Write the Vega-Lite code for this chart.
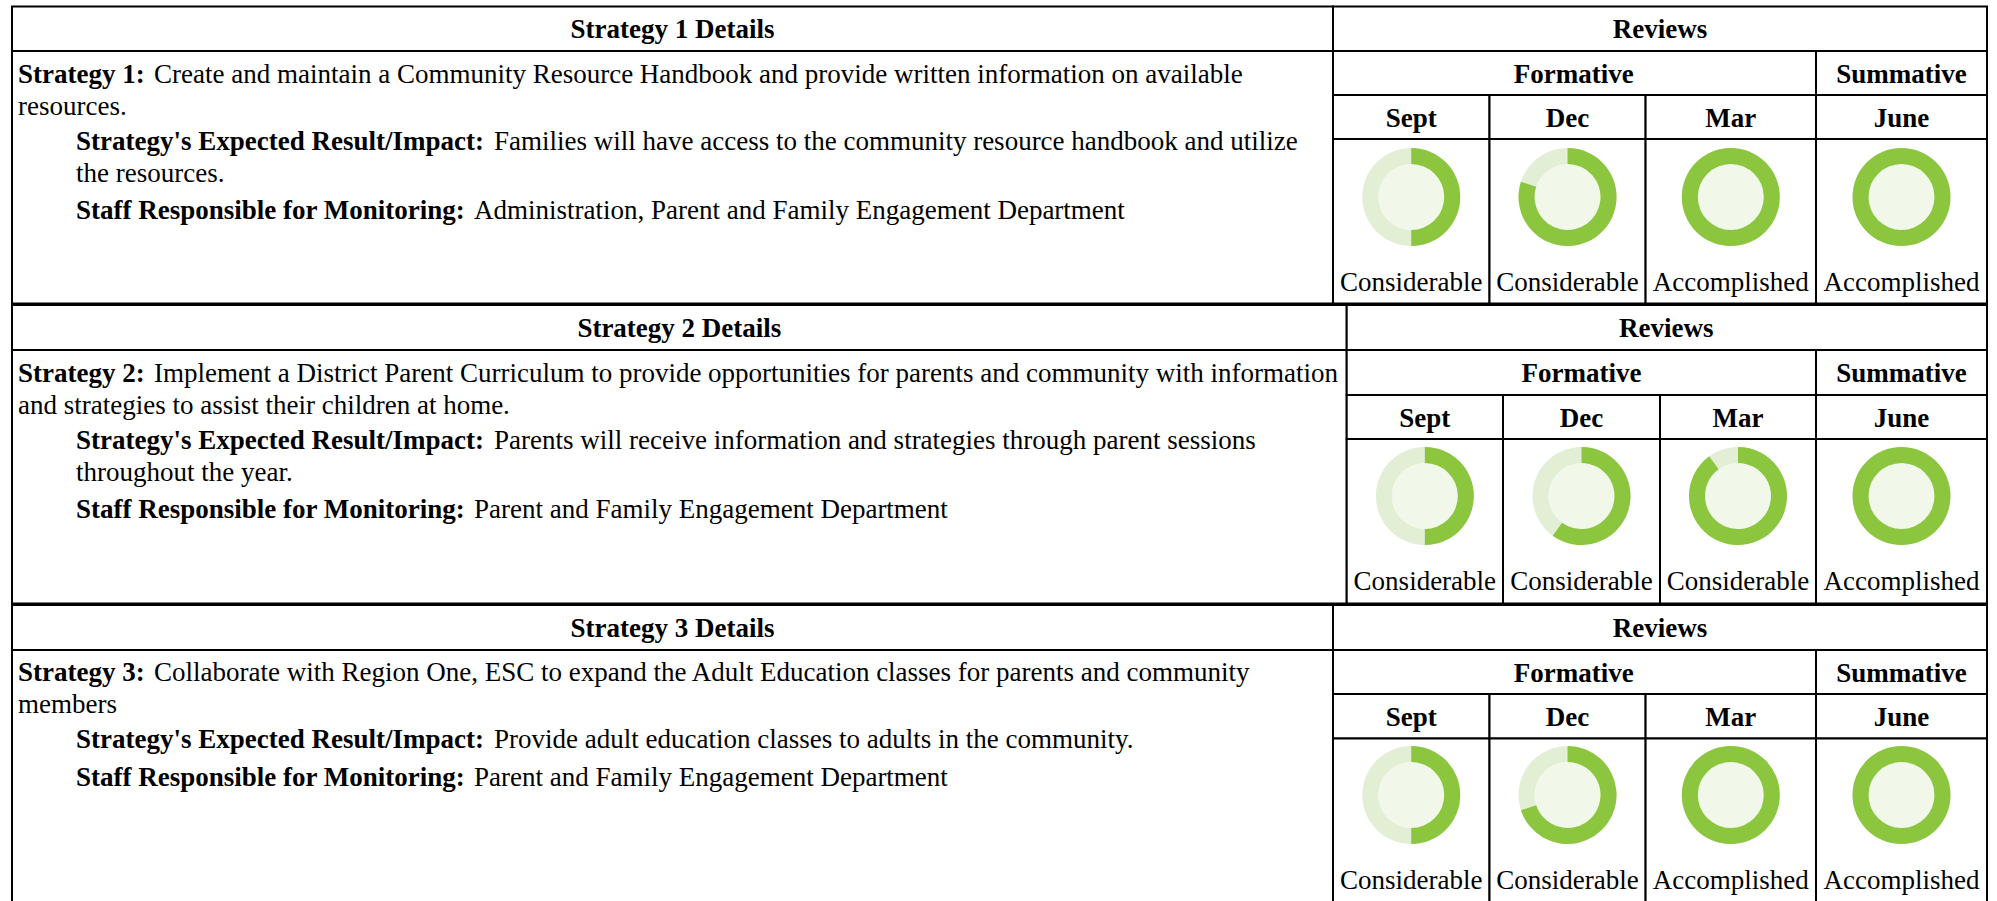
{"$schema":"https://vega.github.io/schema/vega-lite/v6.json","width":1997,"height":901,"autosize":{"type":"none"},"padding":0,"background":"white","config":{"view":{"stroke":null},"text":{"font":"Liberation Serif","fontSize":27,"color":"#000"}},
"datasets":{
"cells":[
{"c0":0,"c1":1,"r0":0,"r1":1},{"c0":1,"c1":5,"r0":0,"r1":1},{"c0":0,"c1":1,"r0":1,"r1":4},{"c0":1,"c1":4,"r0":1,"r1":2},{"c0":4,"c1":5,"r0":1,"r1":2},{"c0":1,"c1":2,"r0":2,"r1":3},{"c0":2,"c1":3,"r0":2,"r1":3},{"c0":3,"c1":4,"r0":2,"r1":3},{"c0":4,"c1":5,"r0":2,"r1":3},{"c0":1,"c1":2,"r0":3,"r1":4},{"c0":2,"c1":3,"r0":3,"r1":4},{"c0":3,"c1":4,"r0":3,"r1":4},{"c0":4,"c1":5,"r0":3,"r1":4},
{"c0":10,"c1":11,"r0":10,"r1":11},{"c0":11,"c1":15,"r0":10,"r1":11},{"c0":10,"c1":11,"r0":11,"r1":14},{"c0":11,"c1":14,"r0":11,"r1":12},{"c0":14,"c1":15,"r0":11,"r1":12},{"c0":11,"c1":12,"r0":12,"r1":13},{"c0":12,"c1":13,"r0":12,"r1":13},{"c0":13,"c1":14,"r0":12,"r1":13},{"c0":14,"c1":15,"r0":12,"r1":13},{"c0":11,"c1":12,"r0":13,"r1":14},{"c0":12,"c1":13,"r0":13,"r1":14},{"c0":13,"c1":14,"r0":13,"r1":14},{"c0":14,"c1":15,"r0":13,"r1":14},
{"c0":0,"c1":1,"r0":20,"r1":21},{"c0":1,"c1":5,"r0":20,"r1":21},{"c0":0,"c1":1,"r0":21,"r1":24},{"c0":1,"c1":4,"r0":21,"r1":22},{"c0":4,"c1":5,"r0":21,"r1":22},{"c0":1,"c1":2,"r0":22,"r1":23},{"c0":2,"c1":3,"r0":22,"r1":23},{"c0":3,"c1":4,"r0":22,"r1":23},{"c0":4,"c1":5,"r0":22,"r1":23},{"c0":1,"c1":2,"r0":23,"r1":24},{"c0":2,"c1":3,"r0":23,"r1":24},{"c0":3,"c1":4,"r0":23,"r1":24},{"c0":4,"c1":5,"r0":23,"r1":24}],
"headers":[
{"label":"Strategy 1 Details","cx":0.5,"cy":0.5},{"label":"Reviews","cx":3.085,"cy":0.5},{"label":"Formative","cx":2.54,"cy":1.5},{"label":"Summative","cx":4.5,"cy":1.5},{"label":"Sept","cx":1.5,"cy":2.5},{"label":"Dec","cx":2.5,"cy":2.5},{"label":"Mar","cx":3.5,"cy":2.5},{"label":"June","cx":4.5,"cy":2.5},
{"label":"Strategy 2 Details","cx":10.5,"cy":10.5},{"label":"Reviews","cx":13.04,"cy":10.5},{"label":"Formative","cx":12.5,"cy":11.5},{"label":"Summative","cx":14.5,"cy":11.5},{"label":"Sept","cx":11.5,"cy":12.5},{"label":"Dec","cx":12.5,"cy":12.5},{"label":"Mar","cx":13.5,"cy":12.5},{"label":"June","cx":14.5,"cy":12.5},
{"label":"Strategy 3 Details","cx":0.5,"cy":20.5},{"label":"Reviews","cx":3.085,"cy":20.5},{"label":"Formative","cx":2.54,"cy":21.5},{"label":"Summative","cx":4.5,"cy":21.5},{"label":"Sept","cx":1.5,"cy":22.5},{"label":"Dec","cx":2.5,"cy":22.5},{"label":"Mar","cx":3.5,"cy":22.5},{"label":"June","cx":4.5,"cy":22.5}],
"reviews":[
{"strategy":1,"month":"Sept","cx":1.5,"percent":50,"status":"Considerable"},{"strategy":1,"month":"Dec","cx":2.5,"percent":80,"status":"Considerable"},{"strategy":1,"month":"Mar","cx":3.5,"percent":100,"status":"Accomplished"},{"strategy":1,"month":"June","cx":4.5,"percent":100,"status":"Accomplished"},
{"strategy":2,"month":"Sept","cx":11.5,"percent":50,"status":"Considerable"},{"strategy":2,"month":"Dec","cx":12.5,"percent":60,"status":"Considerable"},{"strategy":2,"month":"Mar","cx":13.5,"percent":90,"status":"Considerable"},{"strategy":2,"month":"June","cx":14.5,"percent":100,"status":"Accomplished"},
{"strategy":3,"month":"Sept","cx":1.5,"percent":50,"status":"Considerable"},{"strategy":3,"month":"Dec","cx":2.5,"percent":70,"status":"Considerable"},{"strategy":3,"month":"Mar","cx":3.5,"percent":100,"status":"Accomplished"},{"strategy":3,"month":"June","cx":4.5,"percent":100,"status":"Accomplished"}],
"boldText":[
{"line":1,"tab":0,"text":"Strategy 1:"},{"line":3,"tab":1,"text":"Strategy's Expected Result/Impact:"},{"line":5,"tab":1,"text":"Staff Responsible for Monitoring:"},
{"line":11,"tab":0,"text":"Strategy 2:"},{"line":13,"tab":1,"text":"Strategy's Expected Result/Impact:"},{"line":15,"tab":1,"text":"Staff Responsible for Monitoring:"},
{"line":21,"tab":0,"text":"Strategy 3:"},{"line":23,"tab":1,"text":"Strategy's Expected Result/Impact:"},{"line":24,"tab":1,"text":"Staff Responsible for Monitoring:"}],
"plainText":[
{"line":1,"tab":2,"text":"Create and maintain a Community Resource Handbook and provide written information on available"},{"line":2,"tab":0,"text":"resources."},{"line":3,"tab":4,"text":"Families will have access to the community resource handbook and utilize"},{"line":4,"tab":1,"text":"the resources."},{"line":5,"tab":3,"text":"Administration, Parent and Family Engagement Department"},
{"line":11,"tab":2,"text":"Implement a District Parent Curriculum to provide opportunities for parents and community with information"},{"line":12,"tab":0,"text":"and strategies to assist their children at home."},{"line":13,"tab":4,"text":"Parents will receive information and strategies through parent sessions"},{"line":14,"tab":1,"text":"throughout the year."},{"line":15,"tab":3,"text":"Parent and Family Engagement Department"},
{"line":21,"tab":2,"text":"Collaborate with Region One, ESC to expand the Adult Education classes for parents and community"},{"line":22,"tab":0,"text":"members"},{"line":23,"tab":4,"text":"Provide adult education classes to adults in the community."},{"line":24,"tab":3,"text":"Parent and Family Engagement Department"}]},
"resolve":{"scale":{"x":"independent","y":"independent"}},
"layer":[
{"data":{"name":"cells"},"mark":{"type":"rect","fill":"white","stroke":"#000","strokeWidth":2},"encoding":{
"x":{"field":"c0","type":"quantitative","axis":null,"scale":{"domain":[0,1,2,3,4,5,10,11,12,13,14,15],"range":[12,1333,1489.5,1645.6,1816,1987,12,1346.7,1503,1660,1816,1987],"nice":false,"zero":false}},"x2":{"field":"c1"},
"y":{"field":"r0","type":"quantitative","axis":null,"scale":{"domain":[0,1,2,3,4,10,11,12,13,14,20,21,22,23,24],"range":[6.5,51,95,139,303.5,305,350,395,439,603.5,605,650,694,738.5,905],"nice":false,"zero":false}},"y2":{"field":"r1"}}},
{"data":{"name":"headers"},"mark":{"type":"text","fontWeight":"bold","align":"center","baseline":"middle","dy":1.5},"encoding":{
"x":{"field":"cx","type":"quantitative","axis":null,"scale":{"domain":[0,1,2,3,4,5,10,11,12,13,14,15],"range":[12,1333,1489.5,1645.6,1816,1987,12,1346.7,1503,1660,1816,1987],"nice":false,"zero":false}},
"y":{"field":"cy","type":"quantitative","axis":null,"scale":{"domain":[0,1,2,3,4,10,11,12,13,14,20,21,22,23,24],"range":[6.5,51,95,139,303.5,305,350,395,439,603.5,605,650,694,738.5,905],"nice":false,"zero":false}},"text":{"field":"label"}}},
{"data":{"name":"boldText"},"mark":{"type":"text","fontWeight":"bold","align":"left","baseline":"middle","dy":1},"encoding":{
"x":{"field":"tab","type":"quantitative","axis":null,"scale":{"domain":[0,1,2,3,4],"range":[18,76,154,474,494],"nice":false,"zero":false}},
"y":{"field":"line","type":"quantitative","axis":null,"scale":{"domain":[1,2,3,4,5,11,12,13,14,15,21,22,23,24],"range":[74,106,141,173,210,373,405,440,472,509,672,704,739,777],"nice":false,"zero":false}},"text":{"field":"text"}}},
{"data":{"name":"plainText"},"mark":{"type":"text","align":"left","baseline":"middle","dy":1},"encoding":{
"x":{"field":"tab","type":"quantitative","axis":null,"scale":{"domain":[0,1,2,3,4],"range":[18,76,154,474,494],"nice":false,"zero":false}},
"y":{"field":"line","type":"quantitative","axis":null,"scale":{"domain":[1,2,3,4,5,11,12,13,14,15,21,22,23,24],"range":[74,106,141,173,210,373,405,440,472,509,672,704,739,777],"nice":false,"zero":false}},"text":{"field":"text"}}},
{"data":{"name":"reviews"},"mark":{"type":"text","align":"center","baseline":"middle","dy":1},"encoding":{
"x":{"field":"cx","type":"quantitative","axis":null,"scale":{"domain":[0,1,2,3,4,5,10,11,12,13,14,15],"range":[12,1333,1489.5,1645.6,1816,1987,12,1346.7,1503,1660,1816,1987],"nice":false,"zero":false}},
"y":{"field":"strategy","type":"quantitative","axis":null,"scale":{"domain":[1,3],"range":[282,880],"nice":false,"zero":false}},"text":{"field":"status"}}},
{"data":{"name":"reviews"},"mark":{"type":"arc","fill":"#f1f8ea","innerRadius":0,"outerRadius":33,"theta":0,"theta2":6.2832},"encoding":{
"x":{"field":"cx","type":"quantitative","axis":null,"scale":{"domain":[0,1,2,3,4,5,10,11,12,13,14,15],"range":[12,1333,1489.5,1645.6,1816,1987,12,1346.7,1503,1660,1816,1987],"nice":false,"zero":false}},
"y":{"field":"strategy","type":"quantitative","axis":null,"scale":{"domain":[1,3],"range":[197,795],"nice":false,"zero":false}}}},
{"data":{"name":"reviews"},"mark":{"type":"arc","fill":"#e2efd5","innerRadius":33,"outerRadius":49,"theta":0,"theta2":6.2832},"encoding":{
"x":{"field":"cx","type":"quantitative","axis":null,"scale":{"domain":[0,1,2,3,4,5,10,11,12,13,14,15],"range":[12,1333,1489.5,1645.6,1816,1987,12,1346.7,1503,1660,1816,1987],"nice":false,"zero":false}},
"y":{"field":"strategy","type":"quantitative","axis":null,"scale":{"domain":[1,3],"range":[197,795],"nice":false,"zero":false}}}},
{"data":{"name":"reviews"},"mark":{"type":"arc","fill":"#8cc63f","innerRadius":33,"outerRadius":49},"encoding":{
"x":{"field":"cx","type":"quantitative","axis":null,"scale":{"domain":[0,1,2,3,4,5,10,11,12,13,14,15],"range":[12,1333,1489.5,1645.6,1816,1987,12,1346.7,1503,1660,1816,1987],"nice":false,"zero":false}},
"y":{"field":"strategy","type":"quantitative","axis":null,"scale":{"domain":[1,3],"range":[197,795],"nice":false,"zero":false}},
"theta":{"field":"percent","type":"quantitative","stack":null,"scale":{"domain":[0,100],"range":[0,6.2832]}},"theta2":{"datum":0}}}
]}
